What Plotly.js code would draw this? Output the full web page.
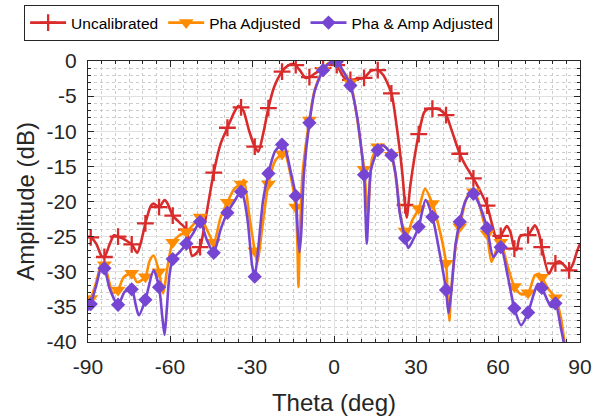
<!DOCTYPE html>
<html>
<head>
<meta charset="utf-8">
<script src="https://cdn.plot.ly/plotly-3.0.1.min.js"></script>
<style>html,body{margin:0;padding:0;background:#fff;}#chart{width:603px;height:418px;}</style>
</head>
<body>
<div id="chart"></div>
<script>
// Marker positions (deg)
const markTheta = [-89,-84,-79,-74,-69,-64,-59,-54,-49,-44,-39,-34,-29,-24,-19,-14,-9,-4,1,6,11,16,21,26,31,36,41,46,51,56,61,66,71,76,81,86];

// Values at marker positions (dB)
const uncalMark = [-25.1,-27.9,-25.0,-26.1,-23.1,-20.8,-22.0,-24.0,-26.5,-15.9,-9.5,-6.6,-12.2,-6.7,-1.5,-0.6,-2.3,-1.0,-0.6,-2.7,-2.4,-1.3,-4.6,-20.5,-10.4,-6.8,-7.7,-13.2,-16.7,-20.6,-24.9,-26.7,-24.8,-26.5,-28.8,-29.8];
const phaMark = [-33.8,-29.0,-32.6,-30.2,-30.7,-30.0,-25.8,-24.3,-22.2,-25.8,-20.1,-17.5,-27.0,-17.5,-13.2,-20.8,-8.4,-1.3,-0.2,-3.1,-15.4,-12.2,-13.4,-24.2,-21.0,-20.3,-28.8,-23.6,-18.6,-24.6,-25.8,-32.1,-33.0,-30.8,-33.7,-44.0];
const ampMark = [-34.6,-29.5,-34.7,-32.5,-34.0,-32.2,-28.2,-26.0,-22.9,-27.3,-21.6,-18.6,-30.7,-16.0,-11.9,-19.2,-8.8,-1.3,-0.1,-3.5,-16.2,-12.7,-13.4,-25.2,-23.6,-22.2,-32.6,-22.9,-18.9,-23.8,-26.5,-35.2,-35.8,-32.3,-34.5,-45.0];

// Additional curve samples between markers
const uncalTheta = [-90,-87,-85,-82,-80.5,-77,-75.5,-72,-70.5,-67,-66,-62,-61,-56.5,-52,-51,-47,-41.5,-36.5,-35,-33,-31,-27.7,-26,-22,-17,-15,-12,-10.5,-7,-1.5,3,4.5,8,13.5,18,23,25,26.6,28,33,34.5,38,43,48,53.5,58,59.5,63.2,64.5,66.8,68,70,73.5,75,78.6,80,82.5,84,87.5,89,90];
const uncalDb = [-25.0,-26.0,-27.8,-26.0,-24.8,-25.3,-25.7,-27.3,-25.6,-20.6,-20.3,-19.8,-20.2,-23.0,-27.7,-27.6,-22.5,-11.8,-7.3,-6.4,-7.2,-10.0,-12.9,-10.5,-3.8,-0.7,-0.4,-1.6,-2.4,-1.8,-0.3,-2.0,-2.7,-2.6,-1.4,-2.0,-9.5,-16.0,-22.3,-17.5,-7.3,-6.8,-6.8,-9.8,-14.8,-18.5,-23.5,-25.3,-23.5,-24.3,-26.9,-25.0,-24.7,-23.4,-24.6,-30.3,-29.3,-28.5,-29.0,-28.8,-27.0,-26.0];

const phaTheta = [-90,-87,-85,-82,-81,-77,-72,-67.5,-66,-62.5,-61,-56.5,-51.5,-46.5,-41.5,-36.5,-33,-31,-28,-26.5,-21.5,-18,-16,-13.4,-13,-12.5,-11.5,-7,-2,0,3,8,10,11.8,12.4,13.2,14,17.5,19,23,24.5,27,28.5,33.3,38,41.6,42.2,42.8,44.5,48.5,50.4,52.5,54.5,57.6,59.5,63.5,68.5,73.5,75,78.5,83,84.5,90];
const phaDb = [-34.5,-31.5,-28.8,-31.8,-33.0,-30.8,-31.5,-28.5,-27.7,-33.1,-29.5,-24.8,-23.3,-24.0,-22.3,-18.2,-16.9,-22.0,-28.7,-24.5,-14.2,-13.1,-16.0,-26.0,-32.2,-25.0,-16.0,-4.0,-0.3,0.0,-1.3,-7.0,-12.5,-19.0,-21.7,-17.0,-13.8,-11.9,-12.3,-17.5,-22.5,-24.5,-22.8,-18.2,-23.0,-34.0,-37.0,-33.0,-26.5,-19.5,-18.4,-19.5,-22.5,-28.6,-26.8,-29.2,-33.2,-30.5,-30.3,-32.5,-36.5,-40.5,-52.0];

const ampTheta = [-90,-87,-85,-82,-76.5,-72.5,-71.4,-66,-62.8,-62,-61.2,-60.2,-56.5,-51.5,-46.5,-41.5,-36.5,-33,-31.5,-30,-27.8,-26,-21.5,-18,-16,-13.3,-12.6,-12,-11,-7,-2,0,3,8.5,10,11.5,12,12.6,13.5,17.5,19,22.5,24,27.2,28.5,33.5,38.5,41.9,43,44.5,48,50.2,53,58.3,63.5,68.5,73,74.6,78,79.5,83,84.5,90];
const ampDb = [-35.5,-32.0,-29.2,-32.5,-32.8,-34.8,-36.2,-29.8,-36.5,-39.0,-35.5,-30.5,-27.2,-24.5,-25.5,-24.0,-20.0,-19.5,-23.0,-29.0,-27.0,-20.0,-12.8,-12.2,-15.5,-24.0,-27.2,-24.5,-16.0,-4.2,-0.4,0.0,-1.2,-8.0,-12.5,-21.5,-26.0,-21.5,-15.5,-12.0,-12.3,-16.0,-21.5,-26.6,-25.8,-19.8,-27.0,-35.9,-32.5,-26.0,-20.0,-18.7,-20.3,-27.9,-30.5,-37.6,-33.3,-31.7,-34.0,-35.0,-38.0,-41.0,-52.0];

const seriesNames = ['Uncalibrated','Pha Adjusted','Pha &amp; Amp Adjusted'];
const xTickVals = [-90,-60,-30,0,30,60,90];
const xTickText = ['-90','-60','-30','0','30','60','90'];
const yTickVals = [0,-5,-10,-15,-20,-25,-30,-35,-40];
const yTickText = ['0','-5','-10','-15','-20','-25','-30','-35','-40'];

function merge(tA, vA, tB, vB) {
  const pts = [];
  tA.forEach((t, i) => pts.push([t, vA[i]]));
  tB.forEach((t, i) => pts.push([t, vB[i]]));
  pts.sort((a, b) => a[0] - b[0]);
  return {x: pts.map(p => p[0]), y: pts.map(p => p[1])};
}

const styles = [
  {color: '#d92b2b', symbol: 'cross-thin', size: 12, lw: 2.3},
  {color: '#ff8c00', symbol: 'triangle-down', size: 13, lw: 0},
  {color: '#7646d2', symbol: 'diamond', size: 11, lw: 0}
];
const markVals = [uncalMark, phaMark, ampMark];
const lineTheta = [uncalTheta, phaTheta, ampTheta];
const lineDb = [uncalDb, phaDb, ampDb];

const traces = [];
for (let i = 0; i < 3; i++) {
  const st = styles[i];
  const ln = merge(markTheta, markVals[i], lineTheta[i], lineDb[i]);
  traces.push({x: ln.x, y: ln.y, type: 'scatter', mode: 'lines', showlegend: false,
    line: {color: st.color, width: 2.6, shape: 'spline', smoothing: 0.7}, hoverinfo: 'skip'});
  traces.push({x: markTheta, y: markVals[i], type: 'scatter', mode: 'markers', showlegend: false,
    marker: {color: st.color, symbol: st.symbol, size: st.size,
      line: {color: st.color, width: st.lw}}});
}
for (let i = 0; i < 3; i++) {
  const st = styles[i];
  traces.push({x: [null], y: [null], type: 'scatter', mode: 'lines+markers', name: seriesNames[i],
    line: {color: st.color, width: 2.6},
    marker: {color: st.color, symbol: st.symbol, size: st.size, line: {color: st.color, width: st.lw}}});
}

const axisCommon = {
  showline: true, linecolor: '#262626', linewidth: 1, mirror: 'ticks',
  ticks: 'inside', ticklen: 6, tickcolor: '#262626', tickwidth: 1,
  showgrid: true, gridcolor: '#e2e2e2', gridwidth: 1, zeroline: false,
  tickfont: {family: 'Liberation Sans, Arial, sans-serif', size: 21, color: '#262626'},
  tickmode: 'array'
};

const layout = {
  width: 603, height: 418,
  margin: {l: 88, r: 23, t: 61, b: 76},
  paper_bgcolor: '#fff', plot_bgcolor: '#fff',
  font: {family: 'Liberation Sans, Arial, sans-serif', color: '#262626'},
  xaxis: Object.assign({}, axisCommon, {
    range: [-90, 90], tickvals: xTickVals, ticktext: xTickText,
    ticklabelstandoff: 6,
    title: {text: 'Theta (deg)', font: {size: 24, color: '#262626'}, standoff: 16},
    minor: {dtick: 5, tick0: -90, showgrid: true, gridcolor: '#cccccc', griddash: 'dot', gridwidth: 1,
      ticks: 'inside', ticklen: 3, tickcolor: '#262626'}
  }),
  yaxis: Object.assign({}, axisCommon, {
    range: [-40, 0], tickvals: yTickVals, ticktext: yTickText,
    ticklabelstandoff: 6,
    title: {text: 'Amplitude (dB)', font: {size: 24, color: '#262626'}, standoff: 5},
    minor: {dtick: 1, tick0: 0, showgrid: true, gridcolor: '#cccccc', griddash: 'dot', gridwidth: 1,
      ticks: 'inside', ticklen: 3, tickcolor: '#262626'}
  }),
  legend: {
    orientation: 'h', xref: 'container', yref: 'container',
    x: 0.04, xanchor: 'left', y: 0.988, yanchor: 'top',
    bordercolor: '#262626', borderwidth: 1, bgcolor: '#fff',
    font: {size: 15.5, color: '#000'}, itemwidth: 36, tracegroupgap: 0
  },
  showlegend: true
};

Plotly.newPlot('chart', traces, layout, {displayModeBar: false, staticPlot: true});
</script>
</body>
</html>
